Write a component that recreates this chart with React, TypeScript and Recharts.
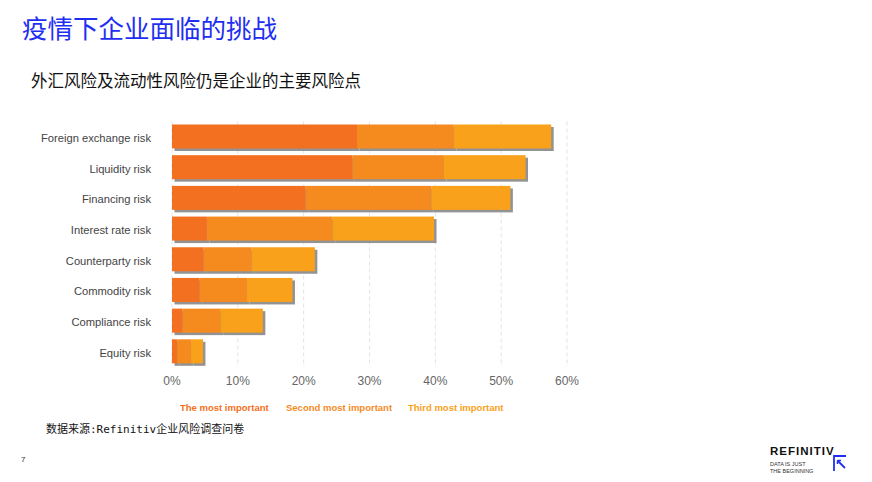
import React from "react";
import { BarChart, Bar, XAxis, YAxis, CartesianGrid } from "recharts";

const categories = [
  "Foreign exchange risk",
  "Liquidity risk",
  "Financing risk",
  "Interest rate risk",
  "Counterparty risk",
  "Commodity risk",
  "Compliance risk",
  "Equity risk",
];
const mostImportant = [28.1, 27.4, 20.3, 5.3, 4.8, 4.2, 1.6, 0.8];
const secondMost = [14.7, 13.9, 19.1, 19.1, 7.3, 7.2, 5.8, 2.1];
const thirdMost = [14.8, 12.4, 12.0, 15.4, 9.6, 6.9, 6.4, 1.8];
const xTicks = [0, 10, 20, 30, 40, 50, 60];

const seriesNames = ["The most important", "Second most important", "Third most important"];
const colors = ["#F37021", "#F58A1F", "#F9A11B"];

const data = categories.map((name, i) => ({
  name,
  first: mostImportant[i],
  second: secondMost[i],
  third: thirdMost[i],
}));

// bar segment with a small grey drop shadow down-right
const ShadowBar = (props: any) => {
  const { x, y, width, height, fill } = props;
  if (!width || width <= 0) return null;
  return (
    <g>
      <rect x={x + 2.5} y={y + 2.5} width={width} height={height} fill="#939393" />
      <rect x={x} y={y} width={width} height={height} fill={fill} />
    </g>
  );
};

export default function App() {
  const cjk = '"Noto Sans CJK SC", "Noto Sans", sans-serif';
  return (
    <div
      style={{
        position: "absolute",
        left: 0,
        top: 0,
        width: 872,
        height: 482,
        background: "#fff",
        overflow: "hidden",
        fontFamily: "Arial, 'Liberation Sans', sans-serif",
      }}
    >
      <div
        style={{
          position: "absolute",
          left: 22,
          top: 10,
          fontSize: 25.5,
          color: "#1f2ff2",
          fontFamily: cjk,
          lineHeight: "34px",
        }}
      >
        疫情下企业面临的挑战
      </div>
      <div
        style={{
          position: "absolute",
          left: 31,
          top: 69,
          fontSize: 16.5,
          color: "#111",
          fontFamily: cjk,
          lineHeight: "22px",
        }}
      >
        外汇风险及流动性风险仍是企业的主要风险点
      </div>

      <div style={{ position: "absolute", left: 0, top: 111 }}>
        <BarChart
          width={600}
          height={286}
          data={data}
          layout="vertical"
          margin={{ top: 10.5, right: 33, bottom: 0, left: 0 }}
        >
          <CartesianGrid horizontal={false} stroke="#e3e3e3" strokeDasharray="4 3" />
          <XAxis
            type="number"
            domain={[0, 60]}
            ticks={xTicks}
            tickFormatter={(v) => `${v}%`}
            axisLine={false}
            tickLine={false}
            tickSize={0}
            tickMargin={9}
            tick={{ fill: "#666", fontSize: 12 }}
            height={30}
          />
          <YAxis
            type="category"
            dataKey="name"
            width={172}
            axisLine={false}
            tickLine={false}
            tickSize={0}
            tickMargin={21}
            tick={{ fill: "#444", fontSize: 11.2, dy: 1 }}
          />
          <Bar dataKey="first" stackId="a" fill={colors[0]} barSize={24} shape={ShadowBar} isAnimationActive={false} />
          <Bar dataKey="second" stackId="a" fill={colors[1]} barSize={24} shape={ShadowBar} isAnimationActive={false} />
          <Bar dataKey="third" stackId="a" fill={colors[2]} barSize={24} shape={ShadowBar} isAnimationActive={false} />
        </BarChart>
      </div>

      {seriesNames.map((s, i) => (
        <div
          key={s}
          style={{
            position: "absolute",
            left: [180, 286, 408][i],
            top: 402,
            fontSize: 9.5,
            fontWeight: "bold",
            color: colors[i],
            whiteSpace: "nowrap",
            lineHeight: "12px",
          }}
        >
          {s}
        </div>
      ))}

      <div
        style={{
          position: "absolute",
          left: 46,
          top: 421,
          fontSize: 11,
          color: "#111",
          fontFamily: '"DejaVu Sans Mono", "Noto Sans CJK SC", monospace',
          lineHeight: "14px",
          whiteSpace: "nowrap",
        }}
      >
        <span style={{ fontFamily: cjk }}>数据来源</span>:Refinitiv
        <span style={{ fontFamily: cjk }}>企业风险调查问卷</span>
      </div>

      <div style={{ position: "absolute", left: 21, top: 455, fontSize: 8, color: "#333", lineHeight: "10px" }}>7</div>

      <div
        style={{
          position: "absolute",
          left: 770,
          top: 445,
          fontSize: 11.5,
          fontWeight: "bold",
          letterSpacing: 1,
          color: "#111",
          lineHeight: "13px",
        }}
      >
        REFINITIV
      </div>
      <div
        style={{
          position: "absolute",
          left: 770,
          top: 461,
          fontSize: 5.5,
          color: "#333",
          lineHeight: "6.5px",
        }}
      >
        DATA IS JUST
        <br />
        THE BEGINNING
      </div>
      <svg style={{ position: "absolute", left: 830, top: 452 }} width={20} height={22}>
        <path d="M4 19 V4 H16" fill="none" stroke="#1f2ff2" strokeWidth={1.8} />
        <path d="M7.5 8.5 L15 16" fill="none" stroke="#1f2ff2" strokeWidth={1.8} />
        <path d="M7.5 8.5 L11 8.5 M7.5 8.5 L7.5 12" fill="none" stroke="#1f2ff2" strokeWidth={1.5} />
      </svg>
    </div>
  );
}
